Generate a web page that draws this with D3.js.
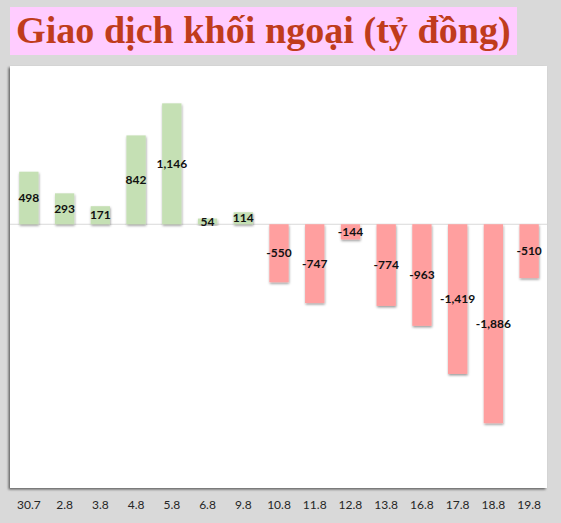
<!DOCTYPE html>
<html>
<head>
<meta charset="utf-8">
<script src="https://cdn.jsdelivr.net/npm/d3@7"></script>
<style>
  body { margin: 0; background: #d9d9d9; }
  svg { display: block; }
</style>
</head>
<body>
<script>
// Data
const dates = ["30.7", "2.8", "3.8", "4.8", "5.8", "6.8", "9.8", "10.8", "11.8", "12.8", "13.8", "16.8", "17.8", "18.8", "19.8"]
const values = [498, 293, 171, 842, 1146, 54, 114, -550, -747, -144, -774, -963, -1419, -1886, -510]
const titleText = "Giao dịch khối ngoại (tỷ đồng)"

const W = 561, H = 523
const panel = {x: 10, y: 66, w: 537, h: 422}

const svg = d3.select("body").append("svg")
    .attr("width", W)
    .attr("height", H)

const defs = svg.append("defs")
const panelShadow = defs.append("filter").attr("id", "panelShadow")
    .attr("x", "-5%").attr("y", "-5%").attr("width", "110%").attr("height", "110%")
panelShadow.append("feDropShadow")
    .attr("dx", -1.5).attr("dy", 1.5).attr("stdDeviation", 1.2)
    .attr("flood-color", "#000").attr("flood-opacity", 0.55)

const barShadow = defs.append("filter").attr("id", "barShadow")
    .attr("x", "-30%").attr("y", "-30%").attr("width", "160%").attr("height", "160%")
barShadow.append("feDropShadow")
    .attr("dx", 0.5).attr("dy", 1.5).attr("stdDeviation", 1)
    .attr("flood-color", "#000").attr("flood-opacity", 0.4)

// Title
svg.append("rect")
    .attr("x", 10).attr("y", 7)
    .attr("width", 507).attr("height", 48)
    .attr("fill", "#ffccff")

const title = svg.append("text")
    .attr("x", 16).attr("y", 43)
    .attr("font-family", "'Liberation Serif', 'Times New Roman', serif")
    .attr("font-weight", "bold")
    .attr("font-size", 38)
    .attr("fill", "#c03c1c")
    .text(titleText)
// fit width to the picture
const tw = title.node().getComputedTextLength()
title.attr("font-size", 38 * 495 / tw)

// Panel
svg.append("rect")
    .attr("x", panel.x).attr("y", panel.y)
    .attr("width", panel.w).attr("height", panel.h)
    .attr("fill", "white")
    .attr("filter", "url(#panelShadow)")

const x = d3.scaleBand()
    .domain(dates)
    .range([panel.x + 1, panel.x + panel.w])
    .paddingInner(0.46)
    .paddingOuter(0.23)

const y = d3.scaleLinear()
    .domain([-2500, 1500])
    .range([panel.y + panel.h, panel.y])

// zero line
svg.append("line")
    .attr("x1", panel.x).attr("x2", panel.x + panel.w)
    .attr("y1", y(0)).attr("y2", y(0))
    .attr("stroke", "#d9d9d9")
    .attr("stroke-width", 1)

const bars = svg.append("g")
bars.selectAll("rect")
    .data(values)
    .join("rect")
    .attr("x", (d, i) => x(dates[i]))
    .attr("width", x.bandwidth())
    .attr("y", d => y(Math.max(0, d)))
    .attr("height", d => Math.abs(y(d) - y(0)))
    .attr("fill", d => d >= 0 ? "#c5e0b4" : "#ff9f9f")
    .attr("filter", "url(#barShadow)")

const fmt = d3.formatLocale({decimal: ".", thousands: ",", grouping: [3], currency: ["", ""], minus: "-"}).format(",")
svg.append("g").selectAll("text")
    .data(values)
    .join("text")
    .attr("x", (d, i) => x(dates[i]) + x.bandwidth() / 2)
    .attr("y", d => (y(d) + y(0)) / 2)
    .attr("dy", "0.35em")
    .attr("text-anchor", "middle")
    .attr("font-family", "Lato, 'Open Sans', sans-serif")
    .attr("font-weight", "bold")
    .attr("font-size", 12)
    .attr("fill", "#111")
    .text(d => fmt(d))

// category axis
const xAxis = svg.append("g")
    .attr("transform", `translate(0,${panel.y + panel.h})`)
    .call(d3.axisBottom(x).tickSize(0).tickPadding(12))
xAxis.select(".domain").remove()
xAxis.selectAll("text")
    .attr("font-family", "Lato, 'Open Sans', sans-serif")
    .attr("font-size", 12)
    .attr("fill", "#262626")
</script>
</body>
</html>
